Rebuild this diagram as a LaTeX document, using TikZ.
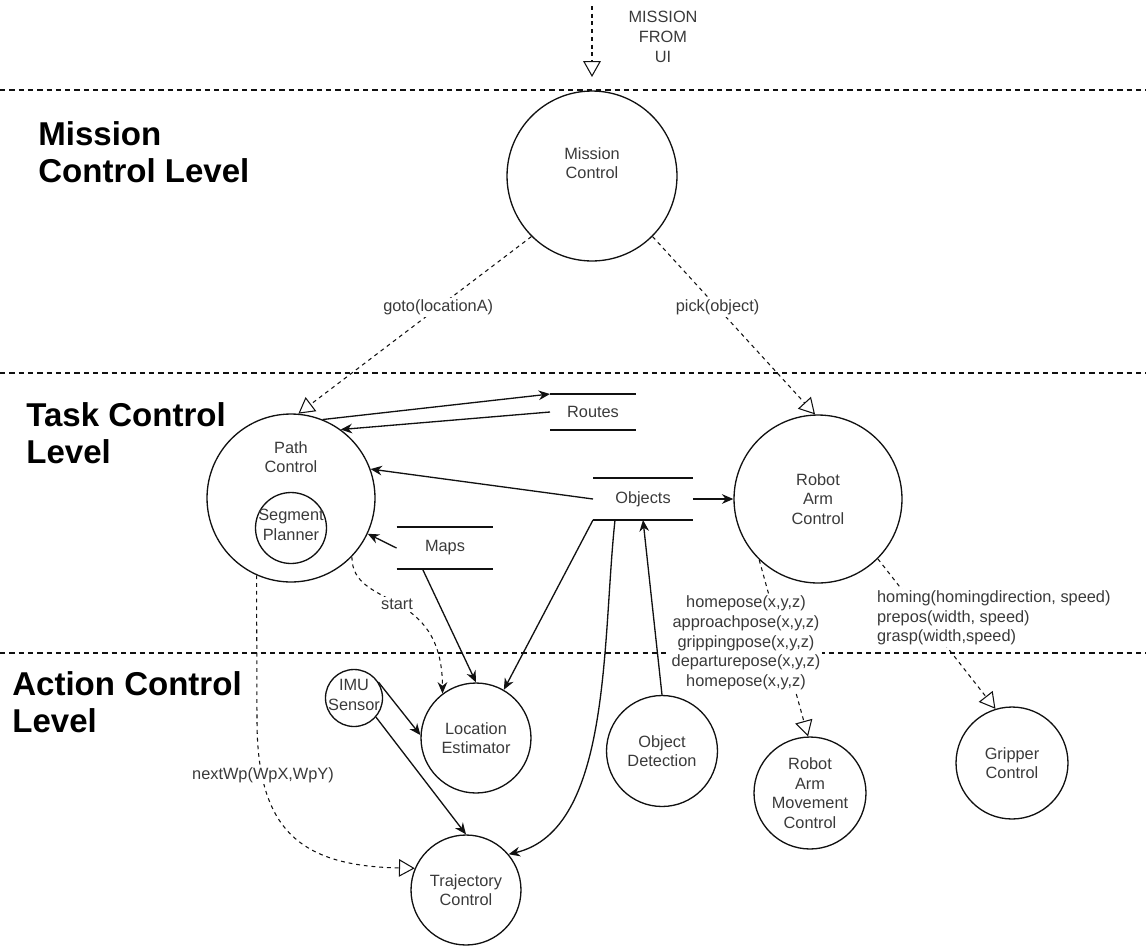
\documentclass[tikz,border=0pt]{standalone}
\usepackage{fontspec}
\setmainfont{Liberation Sans}
\usepackage{xcolor}
\usepackage{tikz}
\usetikzlibrary{calc,arrows.meta}
\definecolor{ink}{HTML}{111111}
\definecolor{txt}{HTML}{3A3A3A}
\newcommand{\lblfont}{\fontsize{9.3}{11.2}\selectfont}
\newcommand{\lvlfont}{\fontsize{18.8}{21}\selectfont\bfseries}
\tikzset{
  levelLine/.style={draw=ink, dash pattern=on 3pt off 2.3pt, line width=0.65pt},
  proc/.style={circle, draw=ink, line width=0.75pt, inner sep=0pt, text=txt, font=\lblfont, align=center},
  procLbl/.style={text=txt, font=\lblfont, align=center, inner sep=0pt},
  store/.style={text=txt, font=\lblfont, inner sep=0pt, outer sep=0pt},
  storeEdge/.style={draw=ink, line width=0.75pt},
  flow/.style={draw=ink, line width=0.75pt, -{Stealth[length=6.5pt, width=5.5pt]}},
  ctrl/.style={draw=ink, line width=0.6pt, dash pattern=on 2.2pt off 2.2pt, -{Triangle[open, length=9pt, width=10pt]}},
  dflow/.style={draw=ink, line width=0.6pt, dash pattern=on 2.2pt off 2.2pt, -{Stealth[length=6.5pt, width=5.5pt]}},
  edgeLbl/.style={fill=white, text=txt, font=\lblfont, inner sep=1pt, align=center},
  lvlLbl/.style={font=\lvlfont, text=black, align=left, anchor=west, inner sep=0pt},
}

\begin{document}
\begin{tikzpicture}[x=0.02cm, y=-0.02cm]
  \useasboundingbox (0,0) rectangle (1146,947);

  % level separators
  \draw[levelLine] (0,90) -- (1146,90);
  \draw[levelLine] (0,373) -- (1146,373);
  \draw[levelLine] (0,653) -- (1146,653);

  \node[lvlLbl] (lvl-mc) at (38,152) {Mission\\Control Level};
  \node[lvlLbl] (lvl-tc) at (26,433) {Task Control\\Level};
  \node[lvlLbl] (lvl-ac) at (12,702) {Action Control\\Level};

  % incoming mission
  \coordinate (ui) at (592,6);
  \coordinate (ui-tip) at (592,77);
  \draw[ctrl] (ui) -- (ui-tip);
  \node[procLbl] (ui-t) at (663,37) {MISSION\\FROM\\UI};

  % processes
  \node[proc, minimum size=3.4cm] (mc) at (592,176) {};
  \node[procLbl] (mc-t) at (592,163) {Mission\\Control};
  \node[proc, minimum size=3.36cm] (pc) at (291,498) {};
  \node[procLbl] (pc-t) at (291,457) {Path\\Control};
  \node[proc, minimum size=1.42cm] (sp) at (291,528) {};
  \node[procLbl] (sp-t) at (291,525) {Segment\\Planner};
  \node[proc, minimum size=3.36cm] (rac) at (818,499) {Robot\\Arm\\Control};
  \node[proc, minimum size=1.14cm] (imu) at (354,698) {};
  \node[procLbl] (imu-t) at (354,695) {IMU\\Sensor};
  \node[proc, minimum size=2.2cm] (le) at (476,738) {Location\\Estimator};
  \node[proc, minimum size=2.2cm] (tc) at (466,890) {Trajectory\\Control};
  \node[proc, minimum size=2.22cm] (od) at (662,751) {Object\\Detection};
  \node[proc, minimum size=2.24cm] (ramc) at (810,793) {Robot\\Arm\\Movement\\Control};
  \node[proc, minimum size=2.24cm] (gc) at (1012,763) {Gripper\\Control};

  % data stores
  \node[store, minimum width=1.72cm, minimum height=0.72cm] (rt) at (593,412) {Routes};
  \node[store, minimum width=2cm, minimum height=0.84cm] (ob) at (643,499) {Objects};
  \node[store, minimum width=1.94cm, minimum height=0.84cm] (mp) at (445,548) {Maps};
  \foreach \s in {rt,ob,mp}{
    \draw[storeEdge] (\s.north west) -- (\s.north east) (\s.south west) -- (\s.south east);
  }

  % commands
  \draw[ctrl] (mc.225) -- node[edgeLbl, pos=0.4] {goto(locationA)} (pc.85);
  \draw[ctrl] (mc.315) -- node[edgeLbl, pos=0.4] {pick(object)} (rac.92);

  % data flows
  \draw[flow] (pc.68) -- (rt.north west);
  \draw[flow] (rt.west) -- (pc.54);
  \draw[flow] (ob.west) -- (pc.20);
  \draw[flow] (ob.east) -- (rac.west);
  \draw[flow] (mp.west) -- (pc.-25);
  \draw[flow] ($(mp.south west)+(26,0)$) -- (le.north);
  \draw[flow] (ob.south west) -- (le.60);
  \draw[flow] ($(ob.south west)+(22,0)$) .. controls (602,640) and (612,830) .. (tc.40);
  \draw[flow] (od.north) -- (ob.south);
  \draw[flow] (imu.33) -- (le.177);
  \draw[flow] (imu.-41) -- (tc.north);
  \draw[dflow] (pc.-44) .. controls (352,610) and (442,585) .. node[edgeLbl, pos=0.5] {start} (le.127);

  \draw[ctrl] (pc.-114) -- (257,720) .. controls (257,830) and (300,866) .. (tc.157);
  \node[edgeLbl] (nw-l) at (263,775) {nextWp(WpX,WpY)};

  \draw[ctrl] (rac.-134) -- (ramc.92);
  \node[edgeLbl] (rp-l) at (746,643) {homepose(x,y,z)\\approachpose(x,y,z)\\grippingpose(x,y,z)\\departurepose(x,y,z)\\homepose(x,y,z)};
  \draw[ctrl] (rac.-45) -- (gc.107);
  \node[edgeLbl, align=left, anchor=west] (gr-l) at (875,618) {homing(homingdirection, speed)\\prepos(width, speed)\\grasp(width,speed)};
\end{tikzpicture}
\end{document}
